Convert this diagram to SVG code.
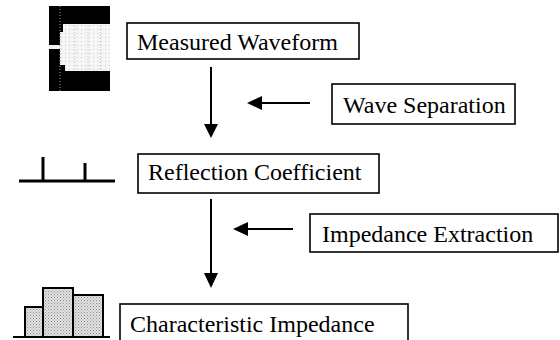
<svg xmlns="http://www.w3.org/2000/svg" width="560" height="340" viewBox="0 0 560 340">
  <style>
    .box { fill: #ffffff; stroke: #000000; stroke-width: 1.6; }
    .lbl { font-family: 'Liberation Serif', serif; font-size: 24px; fill: #000000; }
    .conn { stroke: #000000; stroke-width: 2; fill: none; }
    .head { fill: #000000; }
    .bar { fill: url(#stipple); stroke: #000000; stroke-width: 2; }
  </style>
  <defs>
    <pattern id="stipple" width="3" height="3" patternUnits="userSpaceOnUse">
      <rect width="3" height="3" fill="#e2e2e2"/>
      <rect x="0" y="0" width="1" height="1" fill="#8a8a8a"/>
      <rect x="1.5" y="1.5" width="1" height="1" fill="#a0a0a0"/>
    </pattern>
    <pattern id="lightdots" width="4" height="4" patternUnits="userSpaceOnUse">
      <rect width="4" height="4" fill="#f6f6f6"/>
      <rect x="1" y="1" width="1" height="1" fill="#c8c8c8"/>
    </pattern>
  </defs>

  <rect width="560" height="340" fill="#ffffff"/>

  <!-- icons -->
  <g id="icon-waveform">
    <rect x="49" y="6" width="61" height="85" fill="#000000"/>
    <polygon points="63,24 110,24 110,71 65,71 65,65 60,65 60,32 63,32" fill="url(#lightdots)"/>
    <rect x="49" y="45" width="11" height="4" fill="#f2f2f2"/>
    <line x1="60" y1="6" x2="60" y2="91" stroke="#9a9a9a" stroke-width="1" stroke-dasharray="1 2"/>
    <line x1="75" y1="26" x2="75" y2="69" stroke="#b5b5b5" stroke-width="1" stroke-dasharray="1 2"/>
    <line x1="88" y1="26" x2="88" y2="69" stroke="#b5b5b5" stroke-width="1" stroke-dasharray="1 2"/>
    <line x1="100" y1="26" x2="100" y2="69" stroke="#b5b5b5" stroke-width="1" stroke-dasharray="1 2"/>
  </g>

  <g id="icon-reflection">
    <line x1="19" y1="181" x2="115" y2="181" stroke="#000000" stroke-width="3"/>
    <line x1="43" y1="157" x2="43" y2="181" stroke="#000000" stroke-width="3"/>
    <line x1="85" y1="163" x2="85" y2="181" stroke="#000000" stroke-width="3"/>
  </g>

  <g id="icon-impedance">
    <rect class="bar" x="25" y="307" width="18" height="30"/>
    <rect class="bar" x="43" y="288" width="30" height="49"/>
    <rect class="bar" x="73" y="295" width="30" height="42"/>
    <line x1="13" y1="337" x2="110" y2="337" stroke="#000000" stroke-width="2"/>
  </g>

  <!-- nodes -->
  <g id="node-measured">
    <rect class="box" x="127" y="23" width="232" height="36"/>
    <text class="lbl" x="137" y="50" font-family="Liberation Serif, serif">Measured Waveform</text>
  </g>
  <g id="node-wave-separation">
    <rect class="box" x="332" y="84" width="183" height="40"/>
    <text class="lbl" x="343" y="113" font-family="Liberation Serif, serif">Wave Separation</text>
  </g>
  <g id="node-reflection">
    <rect class="box" x="138" y="154" width="241" height="39"/>
    <text class="lbl" x="148" y="180" font-family="Liberation Serif, serif">Reflection Coefficient</text>
  </g>
  <g id="node-impedance-extraction">
    <rect class="box" x="310" y="214" width="248" height="38"/>
    <text class="lbl" x="322" y="242" font-family="Liberation Serif, serif">Impedance Extraction</text>
  </g>
  <g id="node-characteristic">
    <rect class="box" x="120" y="304" width="288" height="44"/>
    <text class="lbl" x="130" y="332" font-family="Liberation Serif, serif">Characteristic Impedance</text>
  </g>

  <!-- connectors -->
  <g id="connectors">
    <line class="conn" x1="211" y1="67" x2="211" y2="126"/>
    <polygon class="head" points="204,124 218,124 211,138"/>
    <line class="conn" x1="310" y1="103" x2="258" y2="103"/>
    <polygon class="head" points="247,103 262,96 262,110"/>
    <line class="conn" x1="211" y1="199" x2="211" y2="275"/>
    <polygon class="head" points="204,273 218,273 211,288"/>
    <line class="conn" x1="293" y1="229" x2="244" y2="229"/>
    <polygon class="head" points="233,229 248,222 248,236"/>
  </g>
</svg>
